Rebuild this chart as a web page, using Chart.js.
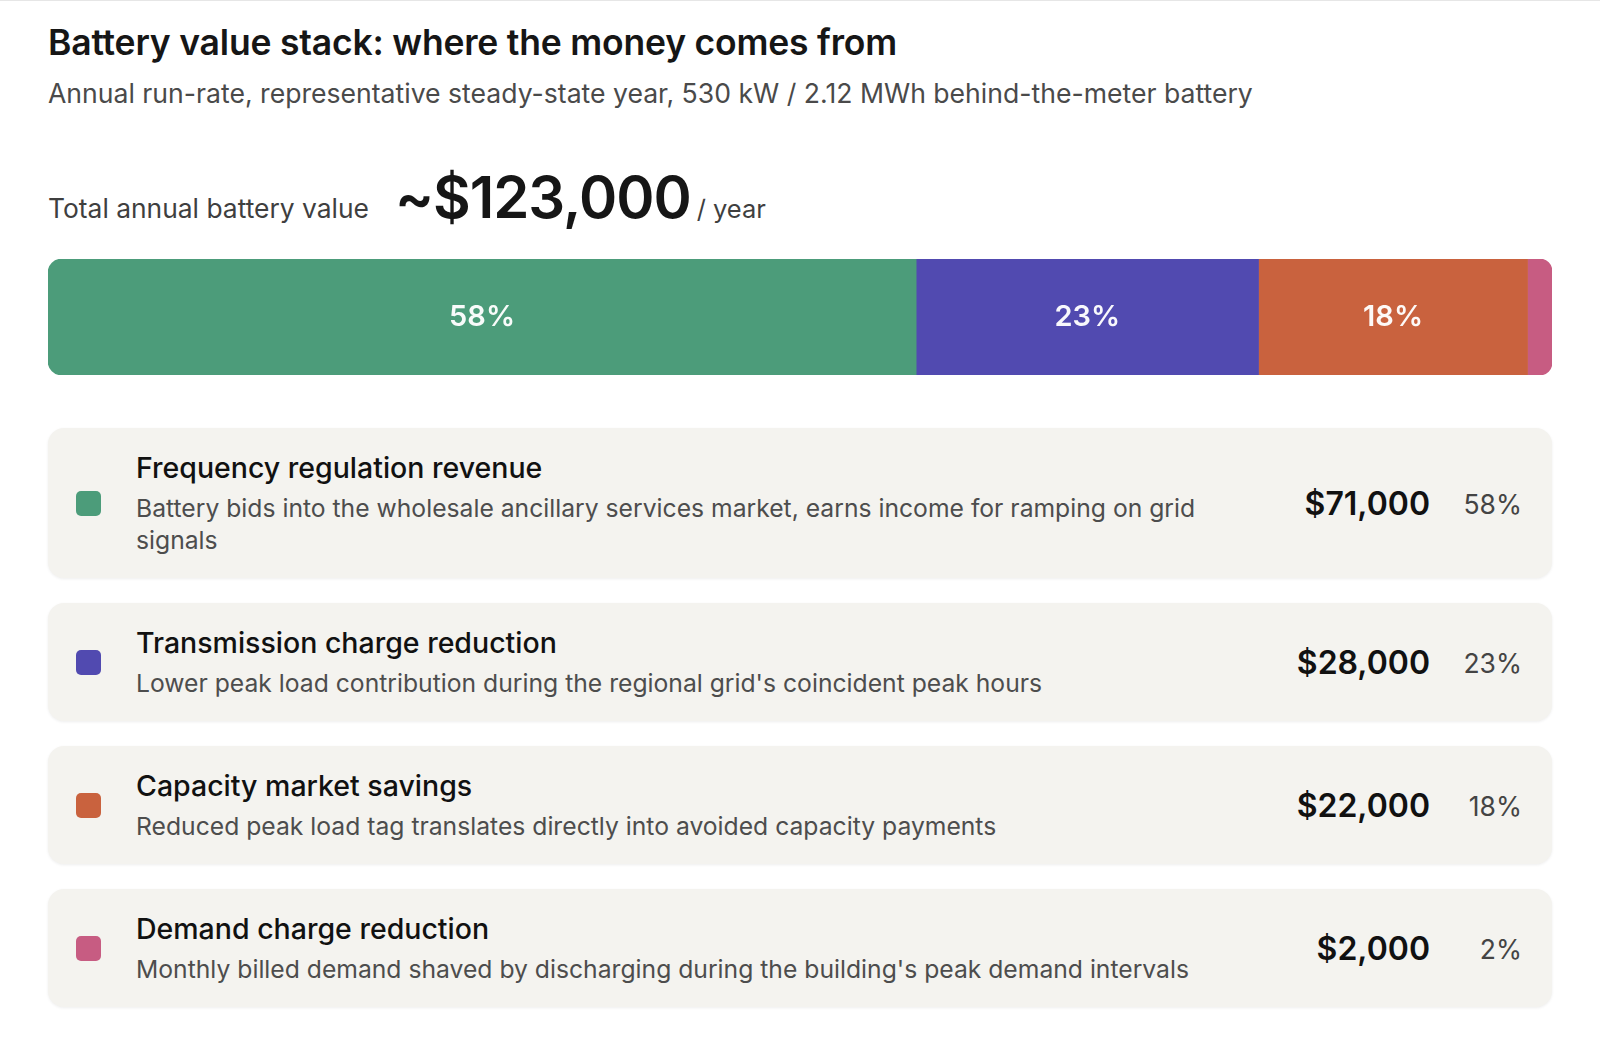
<!DOCTYPE html>
<html>
<head>
<meta charset="utf-8">
<script src="https://cdn.jsdelivr.net/npm/chart.js@4"></script>
<style>
  html, body { margin: 0; padding: 0; background: #fff; }
  body {
    width: 1600px; height: 1044px; overflow: hidden;
    font-family: Inter, "Noto Sans", sans-serif; color: #161616;
    border-top: 1px solid #e6e6e6; box-sizing: border-box;
  }
  .wrap { position: absolute; left: 48px; top: 0; width: 1504px; }
  h1 { margin: 0; position: absolute; top: 22px; font-size: 35.5px; line-height: 42px; font-weight: 600; letter-spacing: -0.2px; white-space: nowrap; }
  .sub { position: absolute; top: 76px; font-size: 26.6px; line-height: 34px; color: #4a4a4a; white-space: nowrap; }
  .total { position: absolute; top: 168px; display: flex; align-items: baseline; white-space: nowrap; }
  .total .lbl { font-size: 26.4px; color: #3f3f3f; margin-right: 26px; }
  .total .big { font-size: 58px; line-height: 58px; font-weight: 600; letter-spacing: -1px; }
  .total .unit { font-size: 25.5px; color: #3f3f3f; margin-left: 6px; }
  #barBox { position: absolute; left: 0; top: 259px; width: 1504px; height: 116px; }
  #cards { position: absolute; top: 428px; width: 1504px; }
  .card {
    display: flex; align-items: center; background: #f4f3ef; border-radius: 16px;
    box-shadow: 0 1px 3px rgba(0,0,0,0.07); padding: 23px 30px 22px 28px; margin-bottom: 25px;
  }
  .sw { width: 25px; height: 25px; border-radius: 5px; flex: none; margin-right: 35px; }
  .txt { flex: 1; max-width: 1100px; }
  .ttl { font-size: 28.5px; line-height: 34px; font-weight: 500; color: #111; }
  .desc { font-size: 24.7px; line-height: 32px; color: #4d4d4d; margin-top: 7px; }
  .val { margin-left: auto; width: 170px; text-align: right; font-size: 32px; font-weight: 600; color: #111; flex: none; }
  .pct { width: 92px; text-align: right; font-size: 26.5px; color: #444; flex: none; }
</style>
</head>
<body>
<div class="wrap">
  <h1>Battery value stack: where the money comes from</h1>
  <div class="sub">Annual run-rate, representative steady-state year, 530 kW / 2.12 MWh behind-the-meter battery</div>
  <div class="total"><span class="lbl">Total annual battery value</span><span class="big" id="big"></span><span class="unit">/ year</span></div>
  <div id="barBox"><canvas id="chart"></canvas></div>
  <div id="cards"></div>
</div>
<script>
const streams = ['Frequency regulation revenue', 'Transmission charge reduction', 'Capacity market savings', 'Demand charge reduction'];
const details = [
  'Battery bids into the wholesale ancillary services market, earns income for ramping on grid signals',
  "Lower peak load contribution during the regional grid's coincident peak hours",
  'Reduced peak load tag translates directly into avoided capacity payments',
  "Monthly billed demand shaved by discharging during the building's peak demand intervals"
];
const values = [71000, 28000, 22000, 2000];
const colors = ['#4c9c7a', '#514ab0', '#c9623e', '#c75c82'];

const total = values.reduce((a, b) => a + b, 0);
const pct = i => Math.round(values[i] / total * 100);
const money = v => '$' + v.toLocaleString('en-US');

document.getElementById('big').textContent = '~' + money(total);

const cards = document.getElementById('cards');
streams.forEach((name, i) => {
  const card = document.createElement('div');
  card.className = 'card';
  card.innerHTML =
    '<div class="sw" style="background:' + colors[i] + '"></div>' +
    '<div class="txt"><div class="ttl"></div><div class="desc"></div></div>' +
    '<div class="val"></div><div class="pct"></div>';
  card.querySelector('.ttl').textContent = name;
  card.querySelector('.desc').textContent = details[i];
  card.querySelector('.val').textContent = money(values[i]);
  card.querySelector('.pct').textContent = pct(i) + '%';
  cards.appendChild(card);
});

// percent labels inside the wide segments
const segmentLabels = {
  id: 'segmentLabels',
  afterDatasetsDraw(chart) {
    const ctx = chart.ctx;
    ctx.save();
    ctx.font = '600 29px Inter';
    ctx.fillStyle = 'rgba(255,255,255,0.96)';
    ctx.textAlign = 'center';
    ctx.textBaseline = 'middle';
    chart.data.datasets.forEach((ds, i) => {
      const bar = chart.getDatasetMeta(i).data[0];
      if (Math.abs(bar.x - bar.base) < 70) return;
      ctx.fillText(pct(i) + '%', (bar.x + bar.base) / 2, bar.y);
    });
    ctx.restore();
  }
};

const last = values.length - 1;
const radiusFor = i => {
  if (i === 0) return { topLeft: 14, bottomLeft: 14, topRight: 0, bottomRight: 0 };
  if (i === last) return { topLeft: 0, bottomLeft: 0, topRight: 14, bottomRight: 14 };
  return { topLeft: 0, bottomLeft: 0, topRight: 0, bottomRight: 0 };
};

new Chart(document.getElementById('chart').getContext('2d'), {
  type: 'bar',
  data: {
    labels: ['Total'],
    datasets: streams.map((name, i) => ({
      label: name,
      data: [values[i]],
      backgroundColor: colors[i],
      borderWidth: 0,
      borderSkipped: false,
      borderRadius: radiusFor(i),
      barPercentage: 1,
      categoryPercentage: 1
    }))
  },
  options: {
    indexAxis: 'y',
    responsive: true,
    maintainAspectRatio: false,
    animation: false,
    layout: { padding: 0 },
    scales: {
      x: { stacked: true, display: false, min: 0, max: total },
      y: { stacked: true, display: false }
    },
    plugins: {
      legend: { display: false },
      tooltip: { enabled: false }
    }
  },
  plugins: [segmentLabels]
});
</script>
</body>
</html>
